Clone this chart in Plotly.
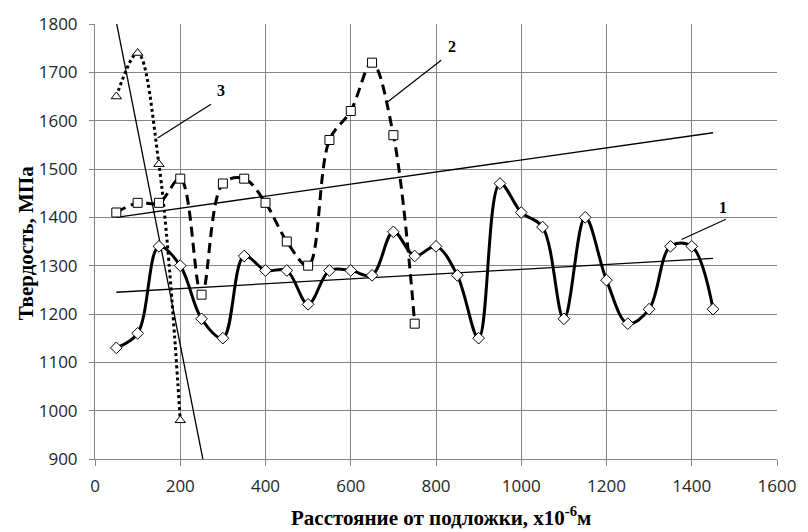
import plotly.graph_objects as go

# Distance from the substrate, x10^-6 m
dist_1 = [50, 100, 150, 200, 250, 300, 350, 400, 450, 500, 550, 600, 650, 700,
          750, 800, 850, 900, 950, 1000, 1050, 1100, 1150, 1200, 1250, 1300,
          1350, 1400, 1450]
hard_1 = [1130, 1160, 1340, 1300, 1190, 1150, 1320, 1290, 1290, 1220, 1290,
          1290, 1280, 1370, 1320, 1340, 1280, 1150, 1470, 1410, 1380, 1190,
          1400, 1270, 1180, 1210, 1340, 1340, 1210]

dist_2 = [50, 100, 150, 200, 250, 300, 350, 400, 450, 500, 550, 600, 650, 700, 750]
hard_2 = [1410, 1430, 1430, 1480, 1240, 1470, 1480, 1430, 1350, 1300, 1560,
          1620, 1720, 1570, 1180]

dist_3 = [50, 100, 150, 200]
hard_3 = [1650, 1740, 1510, 980]

# Linear trend lines (end points)
trend_1_x = [50, 1450]
trend_1_y = [1245, 1315]
trend_2_x = [50, 1450]
trend_2_y = [1400, 1575]
trend_3_x = [51, 253]
trend_3_y = [1800, 900]

# Curve numbers
curve_labels = ["1", "2", "3"]

x_ticks = [0, 200, 400, 600, 800, 1000, 1200, 1400, 1600]
y_ticks = [900, 1000, 1100, 1200, 1300, 1400, 1500, 1600, 1700, 1800]

BLACK = "#000000"
GRID = "#858585"
SERIF = "Liberation Serif"
SANS = "Open Sans"

fig = go.Figure()

# thin trend lines
for tx, ty in [(trend_1_x, trend_1_y), (trend_2_x, trend_2_y), (trend_3_x, trend_3_y)]:
    fig.add_trace(go.Scatter(x=tx, y=ty, mode="lines",
                             line=dict(color=BLACK, width=1.3),
                             hoverinfo="skip", showlegend=False))

# curve 3 - dotted, triangles
fig.add_trace(go.Scatter(
    x=dist_3, y=hard_3, mode="lines+markers",
    line=dict(color=BLACK, width=3, dash="dot", shape="spline", smoothing=1),
    marker=dict(symbol="triangle-up", size=9, color="white",
                line=dict(color=BLACK, width=1)),
    showlegend=False))

# curve 2 - dashed, squares
fig.add_trace(go.Scatter(
    x=dist_2, y=hard_2, mode="lines+markers",
    line=dict(color=BLACK, width=3, dash="10px,6px", shape="spline", smoothing=1),
    marker=dict(symbol="square", size=9, color="white",
                line=dict(color=BLACK, width=1)),
    showlegend=False))

# curve 1 - solid, diamonds
fig.add_trace(go.Scatter(
    x=dist_1, y=hard_1, mode="lines+markers",
    line=dict(color=BLACK, width=3, shape="spline", smoothing=1),
    marker=dict(symbol="diamond", size=9, color="white",
                line=dict(color=BLACK, width=1)),
    showlegend=False))

# leader lines and curve numbers
leaders = {
    "1": ((1480, 1396), (1376, 1354), (1474, 1420)),
    "2": ((812, 1725), (687, 1639), (837, 1754)),
    "3": ((272, 1634), (147, 1564), (296, 1663)),
}
for lab in curve_labels:
    (x0, y0), (x1, y1), (tx, ty) = leaders[lab]
    fig.add_shape(type="line", x0=x0, y0=y0, x1=x1, y1=y1, xref="x", yref="y",
                  line=dict(color=BLACK, width=1.2))
    fig.add_annotation(x=tx, y=ty, text=f"<b>{lab}</b>", showarrow=False,
                       font=dict(family=SERIF, size=16, color=BLACK))

# axis titles
fig.add_annotation(x=0.508, y=-0.132, xref="paper", yref="paper",
                   text="<b>Расстояние от подложки, х10<sup>-6</sup>м</b>",
                   showarrow=False, xanchor="center", yanchor="middle",
                   font=dict(family=SERIF, size=21, color=BLACK))
fig.add_annotation(x=-0.101, y=0.496, xref="paper", yref="paper",
                   text="<b>Твердость, МПа</b>", textangle=-90,
                   showarrow=False, xanchor="center", yanchor="middle",
                   font=dict(family=SERIF, size=21, color=BLACK))

fig.update_layout(
    width=808, height=532,
    margin=dict(l=95, r=21, t=17, b=73),
    paper_bgcolor="white", plot_bgcolor="white",
    font=dict(family=SANS, size=17, color="#262626"),
    xaxis=dict(
        range=[0, 1600], tickvals=x_ticks, ticks="outside", ticklen=6,
        tickcolor=GRID, showgrid=True, gridcolor=GRID, gridwidth=1,
        showline=True, linecolor=GRID, linewidth=1, zeroline=False,
        ticklabelstandoff=6,
    ),
    yaxis=dict(
        range=[900, 1800], tickvals=y_ticks, ticks="outside", ticklen=5,
        tickcolor=GRID, showgrid=True, gridcolor=GRID, gridwidth=1,
        showline=True, linecolor=GRID, linewidth=1, zeroline=False,
        ticklabelstandoff=8,
    ),
)

fig.write_html("out.html")
